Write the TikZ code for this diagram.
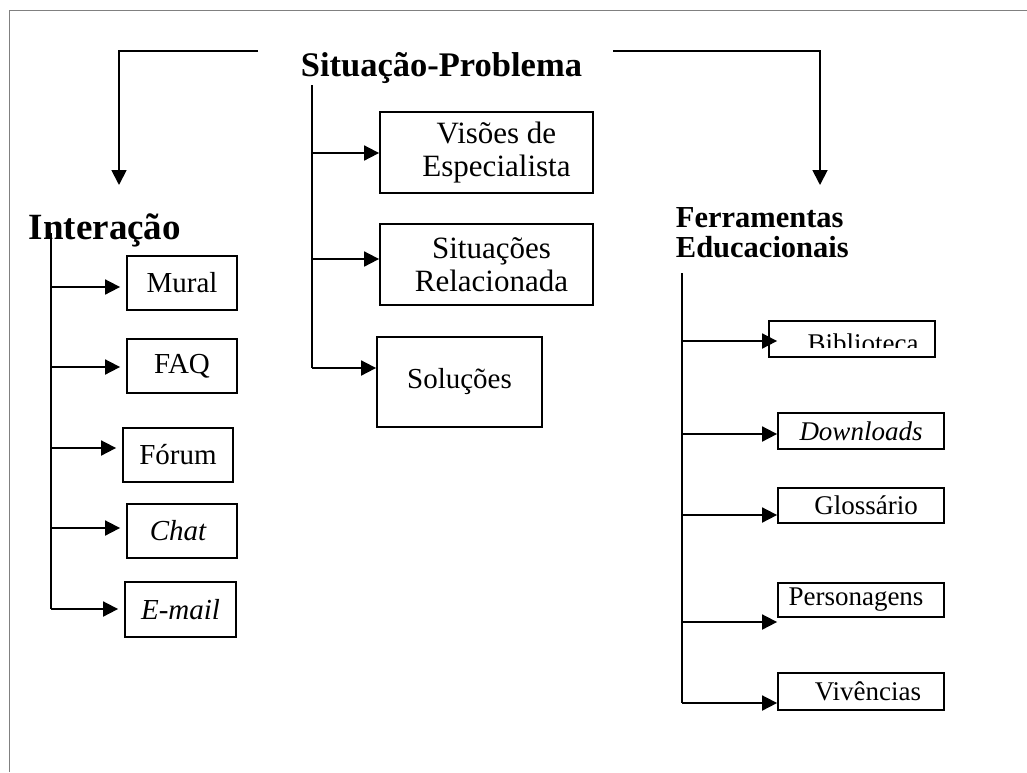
\documentclass[tikz,border=0pt]{standalone}
\usepackage{fontspec}
\setmainfont{Liberation Serif}
\usetikzlibrary{arrows.meta}
\begin{document}
\begin{tikzpicture}[
		x=1pt, y=-1pt,
		line width=1.8pt,
		caixa/.style={draw, inner sep=0pt, align=center, font=\fontsize{#1}{33}\selectfont},
		caixa/.default=29,
		seta/.style={-{Triangle[length=15pt,width=15pt]}},
		titulo/.style={inner sep=0pt, font=\bfseries\fontsize{#1}{30}\selectfont}
	]
	\useasboundingbox (0,0) rectangle (1027,772);
	\draw[gray, line width=1.3pt] (9.5,772) -- (9.5,10.5) -- (1027,10.5);

	\node[titulo=34.5, anchor=base west] (sp) at (300,76) {Situação-Problema};
	\node[titulo=37, anchor=base west] (int) at (28,239) {Interação};
	\node[titulo=30.5, anchor=base west, align=left] (fe) at (675,257) {Ferramentas\\Educacionais};

	\coordinate (spL) at (258,51);
	\coordinate (intIn) at (119,185);
	\coordinate (spR) at (613,51);
	\coordinate (feIn) at (820,185);
	\draw[seta] (spL) -| (intIn);
	\draw[seta] (spR) -| (feIn);

	\node[caixa, minimum width=110pt, minimum height=54pt] (mural) at (182,283) {Mural};
	\node[caixa, minimum width=110pt, minimum height=54pt] (faq) at (182,366) {FAQ};
	\node[caixa, minimum width=110pt, minimum height=54pt] (forum) at (178,455) {Fórum};
	\node[caixa, minimum width=110pt, minimum height=54pt] (chat) at (182,531) {\itshape Chat\hspace*{8pt}};
	\node[caixa, minimum width=111pt, minimum height=55pt] (email) at (180.5,609.5) {\itshape E-mail};

	\node[caixa=31, minimum width=213pt, minimum height=81pt] (visoes) at (486.5,152.5) {\hspace*{20pt}Visões de\\\hspace*{20pt}Especialista};
	\node[caixa=31, minimum width=213pt, minimum height=81pt] (sitrel) at (486.5,264.5) {\hspace*{10pt}Situações\\\hspace*{10pt}Relacionada};
	\node[caixa, minimum width=165pt, minimum height=90pt] (solucoes) at (459.5,382) {Soluções};

	\node[caixa, minimum width=166pt, minimum height=36pt] (bib) at (852,339) {};
	\begin{scope}
		\clip (bib.north west) rectangle ([yshift=10pt]bib.south east);
		\node[caixa=27, draw=none, anchor=base] (bibtxt) at (863,352) {Biblioteca};
	\end{scope}
	\node[caixa=27, minimum width=166pt, minimum height=36pt] (down) at (861,431) {\itshape Downloads};
	\node[caixa=27, minimum width=166pt, minimum height=35pt] (glos) at (861,505.5) {\hspace*{10pt}Glossário};
	\node[caixa=27, minimum width=166pt, minimum height=34pt] (pers) at (861,600) {Personagens\hspace*{10pt}};
	\node[caixa=27, minimum width=166pt, minimum height=37pt] (viv) at (861,691.5) {\hspace*{14pt}Vivências};

	\coordinate (intT) at (51,233);
	\draw (intT) -- (intT |- 0,609);
	\foreach \b/\y in {mural/287, faq/367, forum/448, chat/528, email/609}
		\draw[seta, shorten >=6pt] (intT |- 0,\y) -- (\b.west |- 0,\y);

	\coordinate (spT) at (312,85);
	\draw (spT) -- (spT |- 0,368);
	\foreach \b/\y in {visoes/153, sitrel/259, solucoes/368}
		\draw[seta] (spT |- 0,\y) -- (\b.west |- 0,\y);

	\coordinate (feT) at (682,273);
	\draw (feT) -- (feT |- 0,703);
	\foreach \b/\y/\s in {bib/341/-9, down/434/0, glos/515/0, pers/622/0, viv/703/0}
		\draw[seta, shorten >=\s pt] (feT |- 0,\y) -- (\b.west |- 0,\y);
\end{tikzpicture}
\end{document}
